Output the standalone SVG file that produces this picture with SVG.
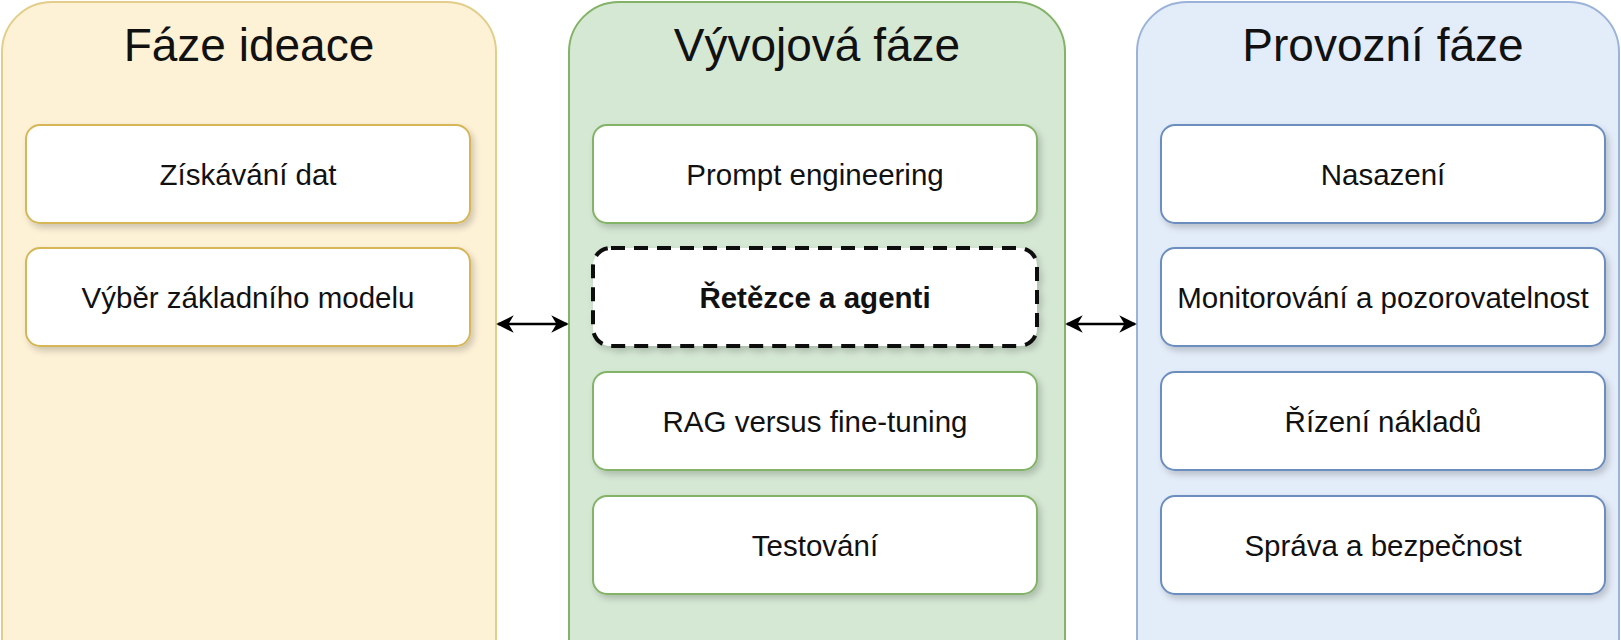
<svg xmlns="http://www.w3.org/2000/svg" width="1621" height="640" viewBox="0 0 1621 640">
<defs>
<filter id="sh" x="-10%" y="-20%" width="130%" height="150%"><feDropShadow dx="3" dy="4" stdDeviation="3" flood-color="#000" flood-opacity="0.18"/></filter>
<marker id="ah" viewBox="0 0 10 10" refX="9" refY="5" markerWidth="7" markerHeight="7" orient="auto-start-reverse"><path d="M0,0 L10,5 L0,10 L3,5 Z" fill="#000"/></marker>
</defs>
<style>
text{font-family:"Liberation Sans",Arial,sans-serif;text-anchor:middle;fill:#111}
.t{font-size:46px}
.b{font-size:29.5px;dominant-baseline:central}
.box{fill:#fff;stroke-width:2;filter:url(#sh)}
.y .box{stroke:#d6b656}.g .box{stroke:#82b366}.bl .box{stroke:#6c8ebf}
</style>
<rect width="1621" height="640" fill="#fff"/>
<g id="ideace" class="y">
<rect x="2" y="2" width="494" height="700" rx="50" fill="#fdf1d6" stroke="#e3cd8a" stroke-width="2"/>
<text class="t" x="249" y="61">Fáze ideace</text>
<g id="n1"><rect class="box" x="26" y="125" width="444" height="98" rx="14"/><text class="b" x="248" y="174">Získávání dat</text></g>
<g id="n2"><rect class="box" x="26" y="248" width="444" height="98" rx="14"/><text class="b" x="248" y="297">Výběr základního modelu</text></g>
</g>
<g id="vyvoj" class="g">
<rect x="569" y="2" width="496" height="700" rx="50" fill="#d5e8d4" stroke="#82b366" stroke-width="2"/>
<text class="t" x="817" y="61">Vývojová fáze</text>
<g id="n3"><rect class="box" x="593" y="125" width="444" height="98" rx="14"/><text class="b" x="815" y="174">Prompt engineering</text></g>
<g id="n4"><rect x="593" y="248" width="444" height="98" rx="18" fill="#fff" stroke="#111" stroke-width="4" stroke-dasharray="14 9" filter="url(#sh)"/><text class="b" x="815" y="297" font-weight="bold">Řetězce a agenti</text></g>
<g id="n5"><rect class="box" x="593" y="372" width="444" height="98" rx="14"/><text class="b" x="815" y="421">RAG versus fine-tuning</text></g>
<g id="n6"><rect class="box" x="593" y="496" width="444" height="98" rx="14"/><text class="b" x="815" y="545">Testování</text></g>
</g>
<g id="provoz" class="bl">
<rect x="1137" y="2" width="482" height="700" rx="50" fill="#e3ecf9" stroke="#9bb3d9" stroke-width="2"/>
<text class="t" x="1383" y="61">Provozní fáze</text>
<g id="n7"><rect class="box" x="1161" y="125" width="444" height="98" rx="14"/><text class="b" x="1383" y="174">Nasazení</text></g>
<g id="n8"><rect class="box" x="1161" y="248" width="444" height="98" rx="14"/><text class="b" x="1383" y="297">Monitorování a pozorovatelnost</text></g>
<g id="n9"><rect class="box" x="1161" y="372" width="444" height="98" rx="14"/><text class="b" x="1383" y="421">Řízení nákladů</text></g>
<g id="n10"><rect class="box" x="1161" y="496" width="444" height="98" rx="14"/><text class="b" x="1383" y="545">Správa a bezpečnost</text></g>
</g>
<g id="connectors" stroke="#000" stroke-width="2.5" fill="none">
<line x1="498" y1="324" x2="567" y2="324" marker-start="url(#ah)" marker-end="url(#ah)"/>
<line x1="1067" y1="324" x2="1135" y2="324" marker-start="url(#ah)" marker-end="url(#ah)"/>
</g>
</svg>
